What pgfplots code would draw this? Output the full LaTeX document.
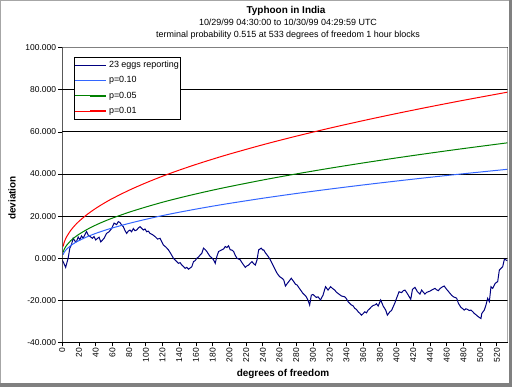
\documentclass[border=0pt]{standalone}
\usepackage{pgfplots}
\pgfplotsset{compat=1.18}
\usepackage{fontspec}
\setmainfont{Liberation Sans}
\definecolor{navyc}{RGB}{0,0,128}
\definecolor{pten}{RGB}{51,102,255}
\definecolor{pfive}{RGB}{0,128,0}
\definecolor{pone}{RGB}{255,0,0}
\begin{document}
\begin{tikzpicture}
\useasboundingbox (0,0) rectangle (512bp,387bp);
\fill[white] (0,0) rectangle (512bp,387bp);
\draw[gray!70, line width=1bp] (0.5bp,0) -- (0.5bp,386.5bp) -- (512bp,386.5bp);
\fill[gray] (509bp,0) rectangle (512bp,387bp);
\fill[gray] (0,0) rectangle (512bp,3.5bp);
\begin{axis}[
  at={(62.3bp,44.5bp)}, anchor=south west,
  scale only axis, width=445.4bp, height=294.8bp,
  xmin=0, xmax=533, ymin=-40, ymax=100,
  xtick={0,20,...,520}, ytick={-40,-20,...,100},
  xtick pos=bottom, ytick pos=left,
  tick align=outside, major tick length=4bp,
  tick style={black, line width=0.8bp},
  axis line style={draw=none},
  ymajorgrids, grid style={black, line width=1bp},
  /pgf/number format/assume math mode=true,
  yticklabel={\pgfmathprintnumber[fixed,fixed zerofill,precision=3]{\tick}},
  yticklabel style={font=\fontsize{8.5}{10}\selectfont, inner xsep=2bp},
  xticklabel style={font=\fontsize{8.5}{10}\selectfont, rotate=90, anchor=east, inner xsep=1.5bp},
  legend style={at={(axis description cs:0.027,0.9695)}, anchor=north west,
    line width=0.8bp, fill=white, inner xsep=0bp, inner ysep=2.5bp,
    font=\fontsize{9}{10}\selectfont, row sep=3.8bp,
    nodes={text height=6bp, text depth=1.5bp, inner ysep=2bp, inner xsep=2bp}},
  legend cell align=left,
  legend image code/.code={\path (-15bp,0bp) -- (0bp,0bp); \draw[#1, line width=1.6bp] (0bp,0bp) -- (16bp,0bp);},
]
\addplot[color=navyc, line width=1bp] coordinates {
(0,-0.8) (2,-2.5) (4,-4.3) (7,0) (9,4.8) (11,6.5) (13,9.5) (15,8.2) (17,7.9) (19,10.1) (21,8.8) (23,10.6) (25,9.5) (27,11.2) (29,12.7) (31,11) (33,10.4) (36,9.5) (38,10.3) (40,8.7) (42,9.4) (44,10) (46,7.8) (48,8.6) (50,9.5) (53,11.8) (56,12.6) (59,14.1) (62,16.7) (65,16) (67,17.4) (69,17) (71,15.8) (73,15) (75,13.2) (77,11.8) (79,12.9) (81,13.4) (83,12.6) (85,14.1) (87,13.1) (89,13.4) (91,14.4) (93,15) (95,14.2) (97,13.4) (99,13.9) (101,12.6) (103,12.9) (105,11.8) (108,11.2) (111,10.3) (114,9.1) (117,9.5) (119,7.8) (121,6.3) (124,5.3) (127,4) (130,2.1) (133,0) (135,-0.8) (137,-1.6) (139,-2.4) (141,-2.1) (143,-3.2) (145,-3.9) (147,-4.8) (149,-4.3) (151,-5.2) (153,-4.6) (155,-4) (157,-1.6) (159,-1.1) (161,0) (163,0.6) (165,1.6) (167,2.4) (169,4.8) (171,4.1) (173,3.2) (175,1.9) (177,0.8) (179,0.2) (181,-0.8) (183,-2.4) (185,0.9) (187,3.2) (189,3.6) (191,4) (193,4.4) (195,5.6) (197,5.1) (199,5.9) (201,4) (203,3.9) (205,3.2) (207,1.4) (209,0) (211,-0.4) (213,-0.8) (215,-2.1) (217,-3.2) (219,-4.3) (221,-3.6) (223,-3.2) (225,-2.3) (227,-1.6) (229,-2.6) (231,-3.2) (233,-0.8) (235,4) (237,4.5) (238,4.8) (240,3.9) (241,4) (243,2.6) (245,1.6) (247,0.5) (249,-0.8) (251,-2.4) (253,-4) (255,-5.6) (257,-7.1) (259,-8.2) (261,-9) (263,-9.5) (265,-10.3) (267,-13.2) (269,-12.1) (271,-11.1) (274,-9.5) (277,-11.1) (279,-12.3) (281,-12.7) (283,-13.9) (285,-15) (288,-16.7) (290,-17.4) (292,-18.3) (294,-19.9) (296,-22.2) (298,-17.5) (300,-17.2) (302,-17.9) (304,-18.6) (306,-18.3) (309,-19.8) (312,-17.5) (315,-13.5) (318,-15.1) (321,-13.5) (323,-14.2) (326,-15.1) (328,-16.1) (330,-16.7) (332,-17.3) (334,-17.9) (336,-18.1) (338,-18.3) (340,-19.2) (342,-20.6) (344,-21.4) (346,-22.2) (348,-22.6) (350,-23.8) (352,-24.3) (354,-25.4) (356,-26.1) (358,-27) (360,-26.3) (362,-25.4) (364,-25.9) (366,-24.6) (368,-23.9) (370,-23) (372,-22.4) (374,-22.2) (376,-21.6) (378,-22.7) (381,-19.8) (384,-22.7) (387,-24.6) (389,-27) (392,-25.4) (394,-24.8) (396,-23) (398,-21.2) (400,-19) (403,-15.9) (406,-16.3) (408,-15.4) (410,-15.1) (412,-16.2) (414,-17.5) (417,-19.5) (419,-14.8) (422,-13.8) (425,-15.9) (428,-17) (430,-15.1) (432,-16.1) (434,-17) (436,-16.2) (438,-15.9) (440,-15.6) (442,-15.1) (444,-14.7) (446,-14.3) (448,-15) (450,-15.4) (452,-14.4) (454,-13.8) (457,-13.2) (460,-14.8) (462,-15.7) (464,-16.7) (466,-17.6) (468,-18.3) (470,-18.6) (472,-19) (474,-21.4) (477,-23.3) (479,-23.9) (481,-24.6) (483,-24.0) (485,-24.3) (487,-24.8) (489,-24.6) (491,-25.3) (493,-26.2) (495,-26.8) (497,-27.5) (499,-28.1) (501,-28.6) (502,-26.2) (505,-24.6) (507,-22.2) (509,-19) (511,-20.6) (513,-13.5) (515,-14.3) (518,-11.9) (521,-11.1) (523,-5.6) (525,-4.8) (527,-4) (529,-0.5) (531,-0.8) (533,-1.2)
};
\addlegendentry{23 eggs reporting}
\addplot[color=pten, line width=1bp, smooth] coordinates {
(1,1.71)(2,2.61)(3,3.25)(5,4.24)(10,5.99)(15,7.31)(20,8.41)(30,10.26)(40,11.81)(50,13.17)(60,14.40)(80,16.58)(100,18.50)(120,20.28)(140,21.87)(160,23.35)(180,24.75)(200,26.06)(240,28.51)(280,30.76)(320,32.85)(360,34.82)(400,36.68)(440,38.45)(480,40.14)(533,42.27)
};
\addlegendentry{p=0.10}
\addplot[color=pfive, line width=1bp, smooth] coordinates {
(1,2.84)(2,3.99)(3,4.82)(5,6.07)(10,8.31)(15,10.00)(20,11.41)(30,13.77)(40,15.76)(50,17.51)(60,19.08)(80,21.88)(100,24.34)(120,26.62)(140,28.66)(160,30.56)(180,32.35)(200,34.03)(240,37.17)(280,40.06)(320,42.75)(360,45.27)(400,47.66)(440,49.93)(480,52.10)(533,54.84)
};
\addlegendentry{p=0.05}
\addplot[color=pone, line width=1bp, smooth] coordinates {
(1,5.63)(2,7.21)(3,8.35)(5,10.09)(10,13.21)(15,15.58)(20,17.57)(30,20.89)(40,23.69)(50,26.15)(60,28.38)(80,32.33)(100,35.81)(120,38.98)(140,41.87)(160,44.56)(180,47.08)(200,49.47)(240,53.91)(280,57.99)(320,61.79)(360,65.36)(400,68.74)(440,71.95)(480,75.02)(533,78.90)
};
\addlegendentry{p=0.01}
\draw[gray, line width=1bp] (rel axis cs:0,1) -- (rel axis cs:1,1) -- (rel axis cs:1,0);
\draw[black, line width=1bp] (rel axis cs:0,1) -- (rel axis cs:0,0) -- (rel axis cs:1,0);
\end{axis}
\node[anchor=base, font=\bfseries\fontsize{10}{12}\selectfont] at (286bp,373bp) {Typhoon in India};
\node[anchor=base, font=\fontsize{9}{11}\selectfont] at (288bp,361bp) {10/29/99 04:30:00 to 10/30/99 04:29:59 UTC};
\node[anchor=base, font=\fontsize{9}{11}\selectfont] at (288bp,349.7bp) {terminal probability 0.515 at 533 degrees of freedom 1 hour blocks};
\node[anchor=base, font=\bfseries\fontsize{10}{12}\selectfont] at (283bp,11bp) {degrees of freedom};
\node[rotate=90, font=\bfseries\fontsize{10}{12}\selectfont] at (12bp,189bp) {deviation};
\end{tikzpicture}
\end{document}
